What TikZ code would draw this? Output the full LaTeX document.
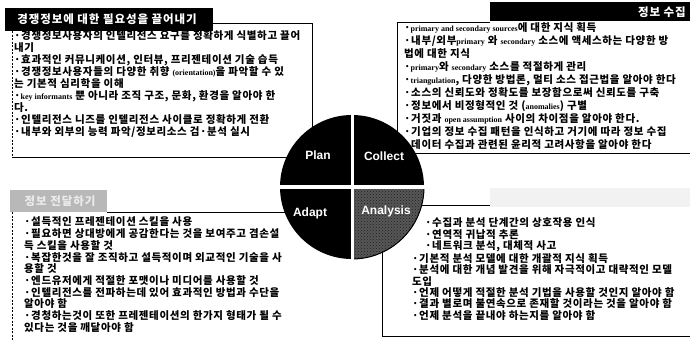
\documentclass[tikz,border=0pt]{standalone}
\usepackage{fontspec}
\usetikzlibrary{patterns}
\newfontfamily\kr{Noto Sans CJK KR}
\newfontfamily\lat{Liberation Serif}
\newfontfamily\lsans{Liberation Sans}
\newcommand\la[1]{{\lat\fontsize{8}{10}\selectfont #1}}
\begin{document}
\begin{tikzpicture}[x=1pt,y=-1pt,
  kline/.style={font=\kr\bfseries\fontsize{10.5}{12}\selectfont\addfontfeature{LetterSpace=6}, anchor=west, inner sep=0pt},
  hdrtext/.style={font=\kr\bfseries\fontsize{11.5}{13}\selectfont\addfontfeature{LetterSpace=8}, text=white, inner sep=0pt},
  qlabel/.style={font=\lsans\bfseries\fontsize{12}{14}\selectfont, text=white, inner sep=0pt},
  boxline/.style={line width=0.9pt},
  dashline/.style={line width=0.7pt, dash pattern=on 2pt off 1.5pt}]
\useasboundingbox (0,0) rectangle (690,340);

% ---------- box frames ----------
% top-left
\draw[boxline] (213,23) -- (312,23) -- (312,135);
\draw[dashline] (12,31) -- (12,157);
\draw[boxline] (12,157) -- (292,157);
% top-right
\draw[boxline] (490,22) -- (397,22) -- (397,135);
\draw[boxline] (414,153) -- (690,153);
% bottom-left
\draw[dashline] (12,212) -- (12,340);
\draw[boxline] (107,212) -- (288,212);
% bottom-right
\draw[boxline] (410,205) -- (490,205);
\draw[boxline] (382,250) -- (382,336) -- (690,336);

% ---------- headers ----------
\fill[black] (5,8) rectangle (213,31);
\node[hdrtext, name=h1] at (107,19) {경쟁정보에 대한 필요성을 끌어내기};
\fill[black] (490,2) rectangle (690,21);
\node[hdrtext, anchor=east, name=h2] at (686,12) {정보 수집};
\fill[black!28] (10,190) rectangle (107,212);
\node[hdrtext, text=white!92!black, name=h3] at (60,201) {정보 전달하기};
\fill[black!5] (490,188) rectangle (690,207);

% ---------- texts ----------
\foreach \t [count=\i] in {
  {·경쟁정보사용자의 인텔리전스 요구를 정확하게 식별하고 끌어},
  {내기},
  {·효과적인 커뮤니케이션, 인터뷰, 프리젠테이션 기술 습득},
  {·경쟁정보사용자들의 다양한 취향 \la{(orientation)}을 파악할 수 있},
  {는 기본적 심리학을 이해},
  {·\la{key informants} 뿐 아니라 조직 구조, 문화, 환경을 알아야 한},
  {다.},
  {·인텔리전스 니즈를 인텔리전스 사이클로 정확하게 전환},
  {·내부와 외부의 능력 파악/정보리소스 검·분석 실시}}
  \node[kline, name=tl\i] at (14,{24+12*\i}) {\t};

\foreach \t [count=\i] in {
  {·\la{primary and secondary sources}에 대한 지식 획득},
  {·내부/외부\la{primary} 와 \la{secondary} 소스에 액세스하는 다양한 방},
  {법에 대한 지식},
  {·\la{primary}와 \la{secondary} 소스를 적절하게 관리},
  {·\la{triangulation}, 다양한 방법론, 멀티 소스 접근법을 알아야 한다},
  {·소스의 신뢰도와 정확도를 보장함으로써 신뢰도를 구축},
  {·정보에서 비정형적인 것 (\la{anomalies}) 구별},
  {·거짓과 \la{open assumption} 사이의 차이점을 알아야 한다.},
  {·기업의 정보 수집 패턴을 인식하고 거기에 따라 정보 수집},
  {·데이터 수집과 관련된 윤리적 고려사항을 알아야 한다}}
  \node[kline, name=tr\i] at (404,{15+13*\i}) {\t};

\foreach \t [count=\i] in {
  {·설득적인 프레젠테이션 스킬을 사용},
  {·필요하면 상대방에게 공감한다는 것을 보여주고 겸손설},
  {득 스킬을 사용할 것},
  {·복잡한것을 잘 조직하고 설득적이며 외교적인 기술을 사},
  {용할 것},
  {·엔드유저에게 적절한 포맷이나 미디어를 사용할 것},
  {·인텔리전스를 전파하는데 있어 효과적인 방법과 수단을},
  {알아야 함},
  {·경청하는것이 또한 프레젠테이션의 한가지 형태가 될 수},
  {있다는 것을 깨달아야 함}}
  \node[kline, name=bl\i] at (24,{210.3+11.7*\i}) {\t};

\foreach \t [count=\i] in {
  {·수집과 분석 단계간의 상호작용 인식},
  {·연역적 귀납적 추론},
  {·네트워크 분석, 대체적 사고}}
  \node[kline, name=bra\i] at (425,{211.6+11.4*\i}) {\t};
\foreach \t [count=\i] in {
  {·기본적 분석 모델에 대한 개괄적 지식 획득},
  {·분석에 대한 개념 발견을 위해 자극적이고 대략적인 모델},
  {도입},
  {·언제 어떻게 적절한 분석 기법을 사용할 것인지 알아야 함},
  {·결과 별로며 불연속으로 존재할 것이라는 것을 알아야 함},
  {·언제 분석을 끝내야 하는지를 알아야 함}}
  \node[kline, name=brb\i] at (412,{246.9+11.4*\i}) {\t};

% ---------- central circle ----------
\coordinate (c) at (352,187);
\fill[black] (c) circle (72pt);
\fill[black!66] (c) -- ++(72pt,0) arc[start angle=0, end angle=-90, radius=72pt] -- cycle;
\fill[pattern=crosshatch dots, pattern color=black!88] (c) -- ++(72pt,0) arc[start angle=0, end angle=-90, radius=72pt] -- cycle;
\draw[line width=1pt] (c) ++(72pt,0) arc[start angle=0, end angle=-90, radius=72pt];
\draw[white, line width=3.5pt] ([xshift=-74pt]c) -- ([xshift=74pt]c);
\draw[white, line width=3pt] ([yshift=74pt]c) -- ([yshift=-74pt]c);

\node[qlabel, name=plan] at (318,155) {Plan};
\node[qlabel, name=collect] at (384,156) {Collect};
\node[qlabel, name=adapt] at (310,213) {Adapt};
\node[qlabel, name=analysis] at (386,211) {Analysis};
\end{tikzpicture}
\end{document}
